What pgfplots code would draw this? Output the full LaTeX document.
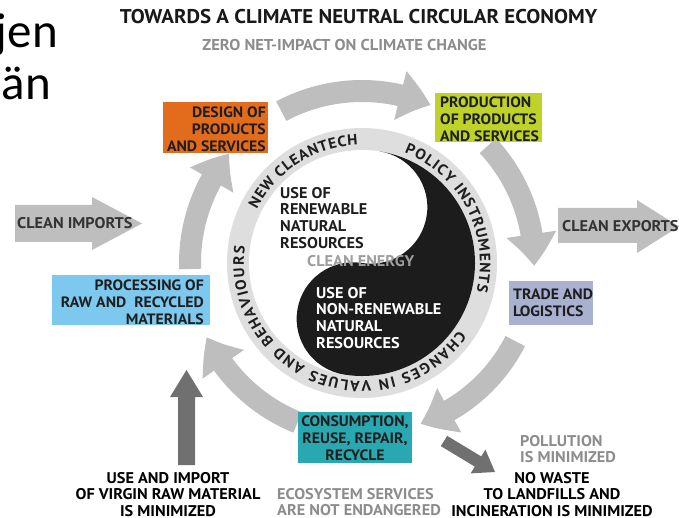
\documentclass[border=0pt]{standalone}
\usepackage{fontspec}
\setmainfont{PT Sans}[FakeStretch=1.05]
\newfontfamily\carlito{Carlito}
\usepackage{pgfplots}
\pgfplotsset{compat=1.18}
\usetikzlibrary{arrows.meta,bending,decorations.text}
\definecolor{ringgray}{RGB}{222,222,222}
\definecolor{arrowgray}{RGB}{190,190,190}
\definecolor{darkarrow}{RGB}{112,112,112}
\definecolor{borange}{RGB}{227,108,28}
\definecolor{bgreen}{RGB}{191,210,42}
\definecolor{blav}{RGB}{168,178,208}
\definecolor{bblue}{RGB}{125,200,238}
\definecolor{bteal}{RGB}{42,168,178}
\definecolor{txt}{RGB}{30,30,30}
\definecolor{graytxt}{RGB}{140,140,140}
\definecolor{yin}{RGB}{28,28,28}
\begin{document}
\begin{tikzpicture}
\begin{axis}[width=679pt,height=518pt,scale only axis,xmin=0,xmax=679,ymin=0,ymax=518,
  y dir=reverse,hide axis,clip=false]
% ring and yin-yang
\fill[ringgray] (axis cs:362,263) circle[radius=135pt];
\fill[white] (axis cs:362,263) circle[radius=113pt];
\begin{scope}[shift={(axis cs:362,263)},rotate=-9]
\fill[yin] (0,113pt) arc[start angle=90,end angle=-90,radius=113pt]
  arc[start angle=-90,end angle=-270,radius=56.5pt]
  arc[start angle=-90,end angle=90,radius=56.5pt] -- cycle;
\end{scope}
% ring texts
\path[decorate,decoration={text along path,text align={fit to path},text color=txt,
  text={|\bfseries\fontsize{15}{15}\selectfont|NEW CLEANTECH}}]
  ([shift={(153:118pt)}]axis cs:362,263) arc[start angle=153,end angle=92,radius=118pt];
\path[decorate,decoration={text along path,text align={fit to path},text color=txt,
  text={|\bfseries\fontsize{15}{15}\selectfont|POLICY INSTRUMENTS}}]
  ([shift={(69:118pt)}]axis cs:362,263) arc[start angle=69,end angle=-14,radius=118pt];
\path[decorate,decoration={text along path,text align={fit to path},text color=txt,
  text={|\bfseries\fontsize{15}{15}\selectfont|CHANGES IN VALUES AND BEHAVIOURS}}]
  ([shift={(-35:118pt)}]axis cs:362,263) arc[start angle=-35,end angle=-188,radius=118pt];
% curved arrows
\begin{scope}[line width=22pt,arrowgray,-{Triangle[width=48pt,length=32pt,bend]}]
\draw ([shift={(182:172pt)}]axis cs:362,263) arc[start angle=182,end angle=140.5,radius=172pt];
\draw ([shift={(118:172pt)}]axis cs:362,263) arc[start angle=118,end angle=66.5,radius=172pt];
\draw ([shift={(43:172pt)}]axis cs:362,263) arc[start angle=43,end angle=-1,radius=172pt];
\draw ([shift={(-27:172pt)}]axis cs:362,263) arc[start angle=-27,end angle=-71,radius=168pt];
\draw ([shift={(-112:172pt)}]axis cs:362,263) arc[start angle=-112,end angle=-154.5,radius=172pt];
\end{scope}
% straight arrows
\addplot[fill=arrowgray,draw=none] coordinates {(15,205) (92,205) (92,197) (142,223.5) (92,250) (92,242) (15,242)} -- cycle;
\addplot[fill=arrowgray,draw=none] coordinates {(558,208) (637,208) (637,200) (679,226.5) (637,253) (637,243) (558,243)} -- cycle;
\addplot[fill=darkarrow,draw=none] coordinates {(178,465) (195,465) (195,397) (203,397) (186.5,370) (170,397) (178,397)} -- cycle;
\addplot[fill=darkarrow,draw=none] coordinates {(447.2,435.9) (481.2,456.4) (485.4,449.6) (495,472) (470.6,473.4) (474.8,466.6) (440.8,446.1)} -- cycle;
% boxes
\addplot[fill=borange,draw=none] coordinates {(163,102) (268,102) (268,153) (163,153)} -- cycle;
\addplot[fill=bgreen,draw=none] coordinates {(435,93) (542,93) (542,142) (435,142)} -- cycle;
\addplot[fill=blav,draw=none] coordinates {(509,281) (593,281) (593,325) (509,325)} -- cycle;
\addplot[fill=bblue,draw=none] coordinates {(52,275) (210,275) (210,325) (52,325)} -- cycle;
\addplot[fill=bteal,draw=none] coordinates {(298,412) (412,412) (412,463) (298,463)} -- cycle;
% box texts
\begin{scope}[every node/.style={inner sep=0pt,font=\bfseries\fontsize{15}{16.6}\selectfont,text=txt}]
\node[anchor=north east,align=right] at (axis cs:266,107) {DESIGN OF\\PRODUCTS\\AND SERVICES};
\node[anchor=north west,align=left] at (axis cs:440,97) {PRODUCTION\\OF PRODUCTS\\AND SERVICES};
\node[anchor=north west,align=left] at (axis cs:513,289) {TRADE AND\\LOGISTICS};
\node[anchor=north east,align=right] at (axis cs:204,280) {PROCESSING OF\\RAW AND\ \ RECYCLED\\MATERIALS};
\node[anchor=north,align=center] at (axis cs:355,416) {CONSUMPTION,\\REUSE, REPAIR,\\RECYCLE};
\end{scope}
\begin{scope}[every node/.style={inner sep=0pt,font=\bfseries\fontsize{15.5}{16.7}\selectfont,text=txt}]
\node[anchor=west,text=black!80] at (axis cs:17,223.5) {CLEAN IMPORTS};
\node[anchor=west,text=black!80] at (axis cs:562,226) {CLEAN EXPORTS};
\node[anchor=north west,align=left] at (axis cs:280,187) {USE OF\\RENEWABLE\\NATURAL\\RESOURCES};
\node[anchor=north west,text=black!38] at (axis cs:307,255) {CLEAN ENERGY};
\node[anchor=north west,align=left,text=white] at (axis cs:316,287) {USE OF\\NON-RENEWABLE\\NATURAL\\RESOURCES};
\node[anchor=north,align=center,text=black] at (axis cs:168,472) {USE AND IMPORT\\OF VIRGIN\ RAW MATERIAL\\IS MINIMIZED};
\node[anchor=north west,align=left,text=graytxt] at (axis cs:277,488) {ECOSYSTEM SERVICES\\ARE NOT ENDANGERED};
\node[anchor=north west,align=left,text=graytxt] at (axis cs:520,435) {POLLUTION\\IS MINIMIZED};
\node[anchor=north,align=center,text=black] at (axis cs:552,472) {NO WASTE\\TO LANDFILLS AND\\INCINERATION IS MINIMIZED};
\end{scope}
% titles
\node[anchor=base,inner sep=0pt,font=\bfseries\fontsize{19.9}{22}\selectfont,text=black!90] at (axis cs:358.5,24) {TOWARDS A CLIMATE NEUTRAL CIRCULAR ECONOMY};
\node[anchor=base,inner sep=0pt,font=\bfseries\fontsize{15.7}{17}\selectfont,text=black!45] at (axis cs:344.5,51) {ZERO NET-IMPACT ON CLIMATE CHANGE};
% partial slide text
\node[anchor=base east,inner sep=0pt,font=\carlito\fontsize{49}{52}\selectfont] at (axis cs:58,48) {jen};
\node[anchor=base east,inner sep=0pt,font=\carlito\fontsize{49}{52}\selectfont] at (axis cs:51,100) {än};
\end{axis}
\pgfresetboundingbox
\path (current axis.south west) rectangle (current axis.north east);
\end{tikzpicture}
\end{document}
